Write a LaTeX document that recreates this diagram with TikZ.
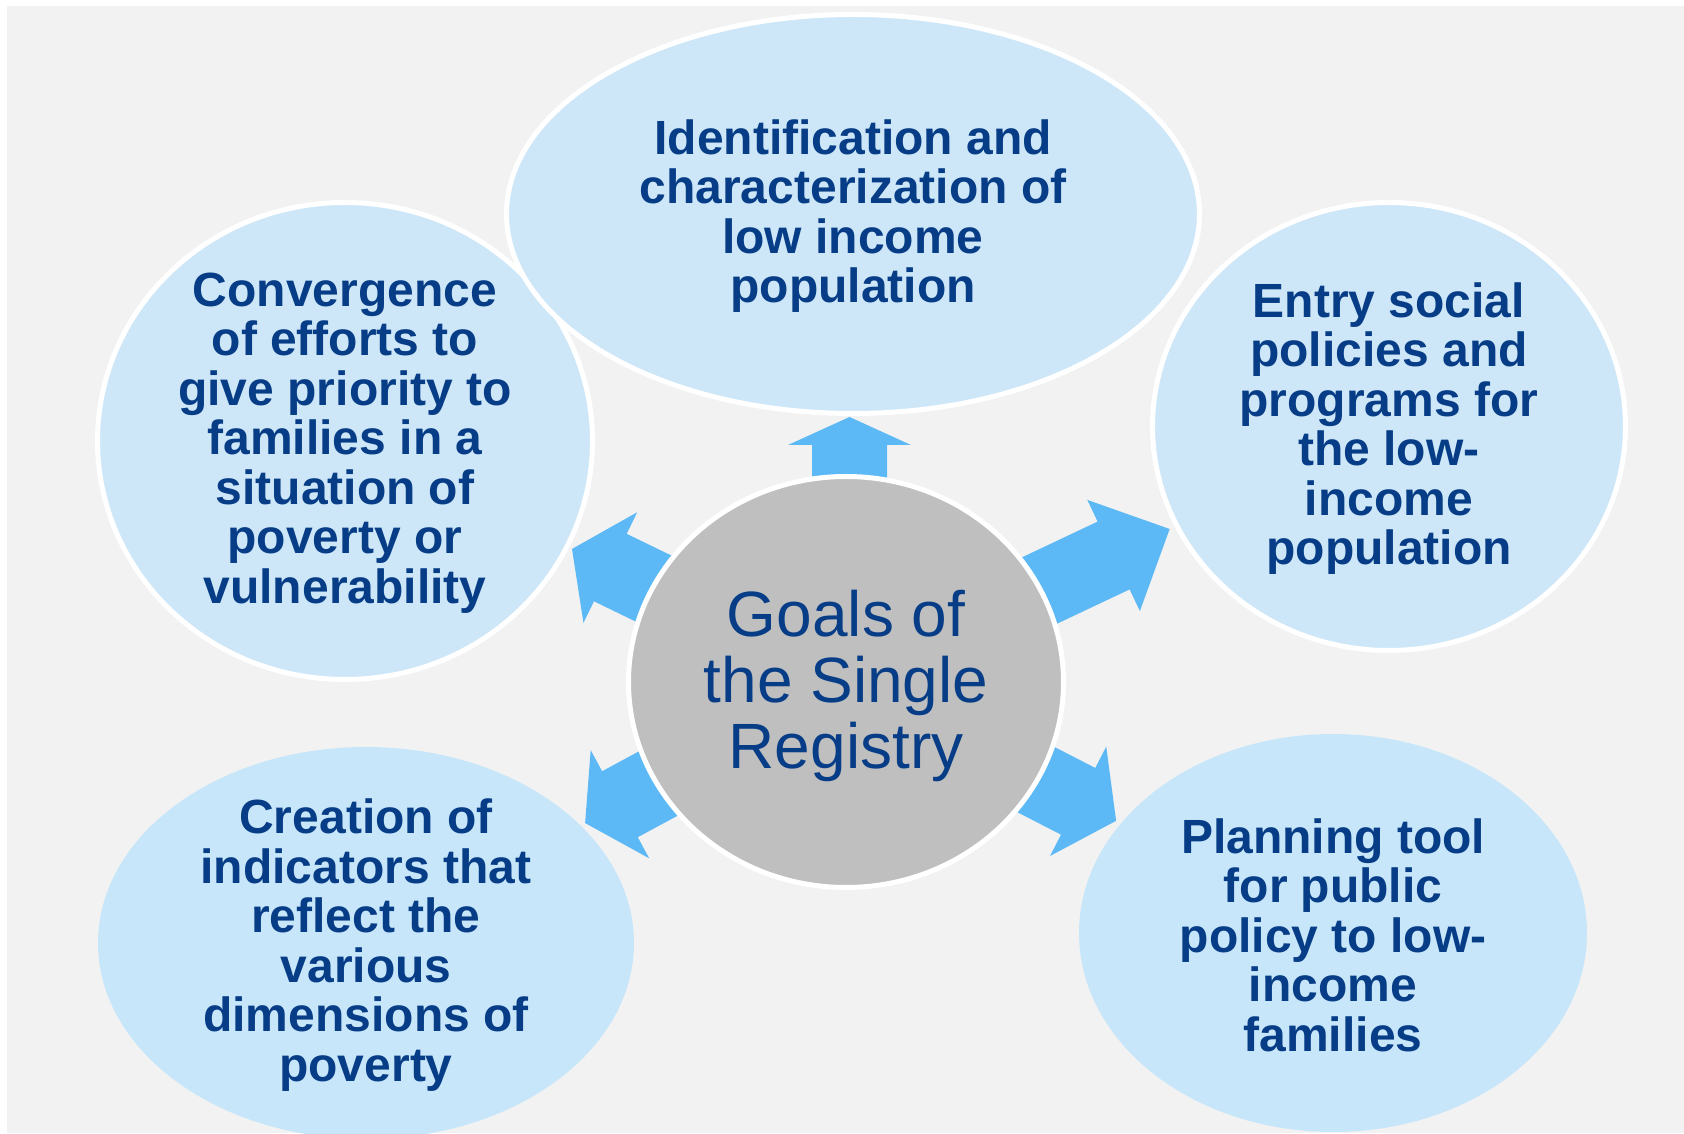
\documentclass[tikz,border=0pt]{standalone}
\usepackage{fontspec}
\setmainfont{Liberation Sans}
\usepackage{xcolor}
\usepackage{tikz}
\usetikzlibrary{shapes.geometric}

\definecolor{pagegray}{HTML}{F2F2F2}
\definecolor{bubblefill}{HTML}{CDE7F8}
\definecolor{bubblelow}{HTML}{C7E6FA}
\definecolor{hubgray}{HTML}{BFBFBF}
\definecolor{arrowblue}{HTML}{5CB9F5}
\definecolor{inkblue}{RGB}{7,61,135}

% block arrow leaving the hub: #2 direction, #3 where the head starts, #4 tip
\newcommand{\hubarrow}[4][]{%
  \fill[arrowblue,shift={(hub)},#1,rotate=#2]
    (150,-37.5) -- (#3,-37.5) -- (#3,-61.5) -- (#4,0) --
    (#3,61.5) -- (#3,37.5) -- (150,37.5) -- cycle;}

\begin{document}
\begin{tikzpicture}[x=1pt,y=1pt,
    bubble/.style={ellipse,fill=bubblefill,draw=white,line width=5pt,inner sep=0pt},
    lowbubble/.style={ellipse,fill=bubblelow,inner sep=0pt},
    goaltext/.style={text=inkblue,align=center,inner sep=0pt,yshift=-2pt,
      font=\bfseries\fontsize{48}{49.5}\selectfont}]
    \useasboundingbox (0,0) rectangle (1684,1133);
    \clip (0,0) rectangle (1684,1133);
    \fill[pagegray] (7,0) rectangle (1684,1127);
    % \draw[step=100,gray] (0,0) grid (1684,1133);

    \coordinate (hub) at (846,451);

    % arrows go first, the hub covers their tails
    \hubarrow[xshift=3.5]{90}{237}{265}
    \hubarrow{154.1}{262}{304.6}
    \hubarrow{25.3}{296}{358}
    \hubarrow{208.4}{257}{296.6}
    \hubarrow{-27.2}{261}{303.7}

    \node[bubble,minimum width=495pt,minimum height=477pt] (conv) at (345,692) {};
    \node[goaltext] (conv-t) at (conv) {Convergence\\of efforts to\\give priority to\\families in a\\situation of\\poverty or\\vulnerability};

    \node[bubble,minimum width=473pt,minimum height=448pt] (entry) at (1389,706.5) {};
    \node[goaltext] (entry-t) at (entry) {Entry social\\policies and\\programs for\\the low-\\income\\population};

    \node[lowbubble,minimum width=536pt,minimum height=392pt] (creat) at (366,190) {};
    \node[goaltext] (creat-t) at (creat) {Creation of\\indicators that\\reflect the\\various\\dimensions of\\poverty};

    \node[lowbubble,minimum width=508pt,minimum height=398pt] (plan) at (1333,200) {};
    \node[goaltext] (plan-t) at (plan) {Planning tool\\for public\\policy to low-\\income\\families};

    \node[bubble,minimum width=693pt,minimum height=399pt] (ident) at (853,919) {};
    \node[goaltext] (ident-t) at (ident) {Identification and\\characterization of\\low income\\population};

    % the hub itself
    \node[ellipse,fill=hubgray,draw=white,line width=5pt,inner sep=0pt,
      minimum width=435pt,minimum height=411pt] (goal) at (hub) {};
    \node[text=inkblue,align=center,inner sep=0pt,yshift=-4pt,
      font=\fontsize{64}{66}\selectfont] (goal-t) at (goal) {Goals of\\the Single\\Registry};
\end{tikzpicture}
\end{document}
